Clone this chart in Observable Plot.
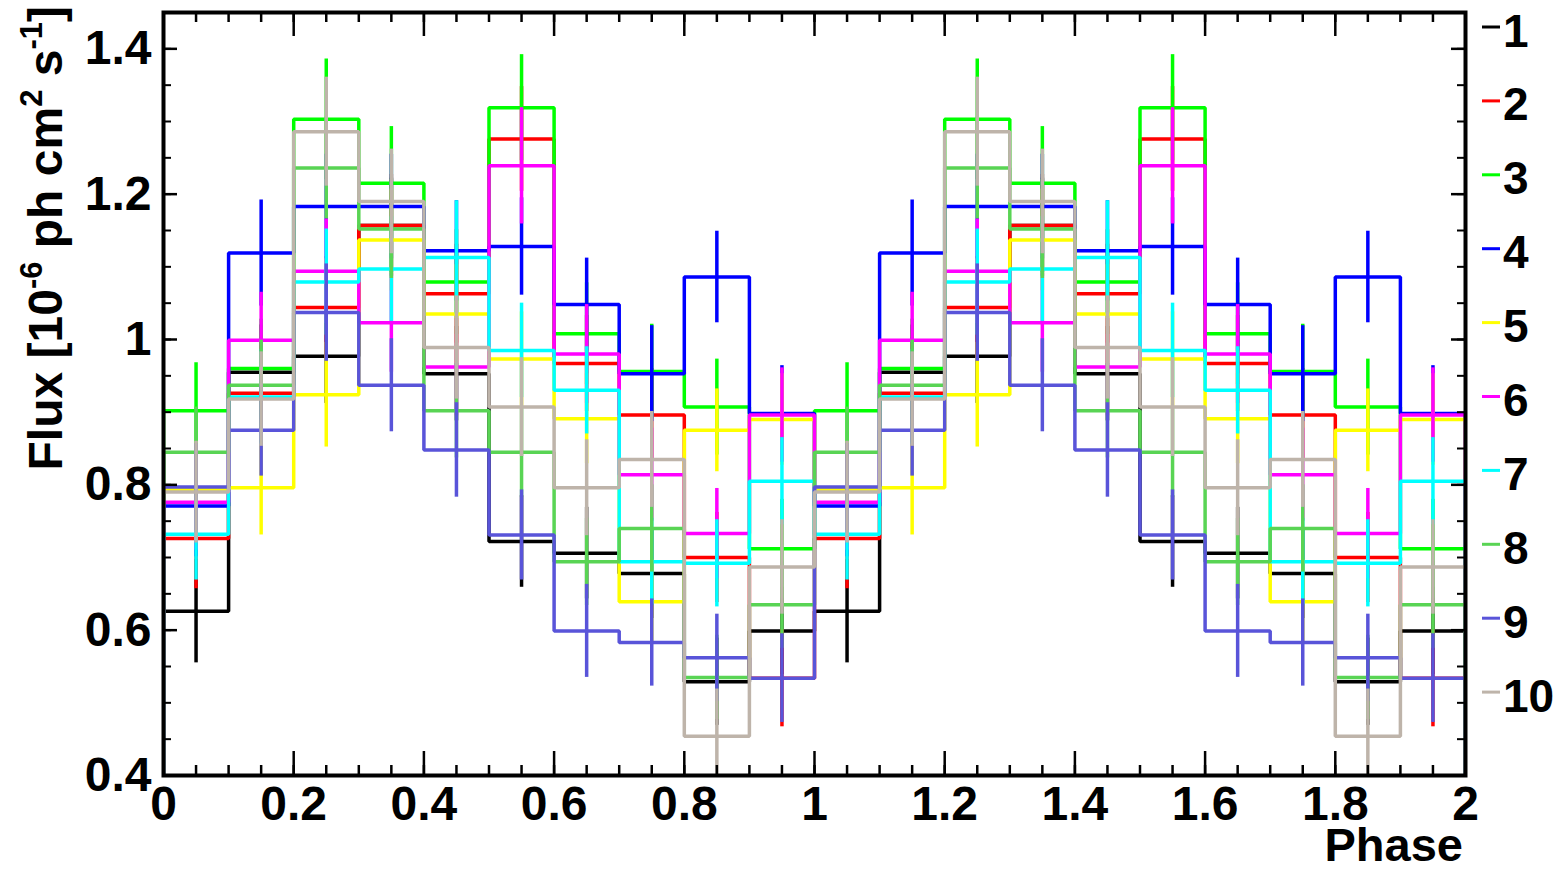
<!DOCTYPE html>
<html>
<head>
<meta charset="utf-8">
<script src="https://cdn.jsdelivr.net/npm/d3@7"></script>
<script src="https://cdn.jsdelivr.net/npm/@observablehq/plot@0.6"></script>
<style>
  html, body { margin: 0; padding: 0; background: #fff; }
  #chart { position: relative; width: 1565px; height: 872px; }
</style>
</head>
<body>
<div id="chart"></div>
<script>
// Phase-folded light curves: 10 bins per cycle, shown over two cycles.
const binStarts = [0, 0.1, 0.2, 0.3, 0.4, 0.5, 0.6, 0.7, 0.8, 0.9];
const binWidth = 0.1;
const cycles = [0, 1];

const seriesLabels = ["1", "2", "3", "4", "5", "6", "7", "8", "9", "10"];
const seriesColors = ["#000000", "#ff0000", "#00ff00", "#0000ff", "#ffff00",
                      "#ff00ff", "#00ffff", "#59d454", "#5954d9", "#beb4aa"];

// Flux per phase bin (10^-6 ph cm^-2 s^-1)
const flux1  = [0.626, 0.955, 0.977, 1.157, 0.953, 0.722, 0.706, 0.678, 0.529, 0.599];
const flux2  = [0.726, 0.926, 1.044, 1.157, 1.063, 1.276, 0.967, 0.896, 0.700, 0.534];
const flux3  = [0.902, 0.960, 1.303, 1.215, 1.079, 1.319, 1.008, 0.956, 0.907, 0.712];
const flux4  = [0.771, 1.119, 1.183, 1.183, 1.122, 1.128, 1.048, 0.953, 1.086, 0.898];
const flux5  = [0.794, 0.796, 0.924, 1.137, 1.035, 0.973, 0.891, 0.639, 0.875, 0.890];
const flux6  = [0.776, 0.999, 1.094, 1.023, 0.962, 1.239, 0.980, 0.814, 0.733, 0.896];
const flux7  = [0.732, 0.921, 1.079, 1.097, 1.113, 0.985, 0.930, 0.694, 0.692, 0.805];
const flux8  = [0.845, 0.937, 1.236, 1.152, 0.902, 0.845, 0.694, 0.740, 0.535, 0.635];
const flux9  = [0.797, 0.875, 1.037, 0.937, 0.848, 0.731, 0.599, 0.583, 0.562, 0.534];
const flux10 = [0.790, 0.918, 1.286, 1.190, 0.989, 0.907, 0.796, 0.835, 0.454, 0.687];

// Statistical errors per phase bin
const err1  = [0.071, 0.065, 0.065, 0.065, 0.065, 0.063, 0.063, 0.062, 0.060, 0.060];
const err2  = [0.069, 0.068, 0.070, 0.070, 0.068, 0.072, 0.066, 0.064, 0.062, 0.067];
const err3  = [0.066, 0.068, 0.083, 0.078, 0.072, 0.073, 0.070, 0.065, 0.066, 0.068];
const err4  = [0.070, 0.073, 0.072, 0.072, 0.069, 0.067, 0.064, 0.066, 0.063, 0.066];
const err5  = [0.065, 0.065, 0.072, 0.070, 0.068, 0.065, 0.062, 0.058, 0.057, 0.063];
const err6  = [0.066, 0.066, 0.072, 0.068, 0.067, 0.080, 0.068, 0.064, 0.062, 0.065];
const err7  = [0.063, 0.065, 0.073, 0.072, 0.078, 0.065, 0.060, 0.060, 0.060, 0.060];
const err8  = [0.062, 0.062, 0.070, 0.068, 0.065, 0.062, 0.060, 0.060, 0.058, 0.060];
const err9  = [0.060, 0.063, 0.067, 0.064, 0.065, 0.062, 0.064, 0.060, 0.060, 0.061];
const err10 = [0.070, 0.065, 0.075, 0.072, 0.071, 0.068, 0.066, 0.066, 0.065, 0.065];

const fluxes = [flux1, flux2, flux3, flux4, flux5, flux6, flux7, flux8, flux9, flux10];
const errors = [err1, err2, err3, err4, err5, err6, err7, err8, err9, err10];

// Axis settings
const xDomain = [0, 2];
const yDomain = [0.4, 1.45];
const xMajorTicks = [0, 0.2, 0.4, 0.6, 0.8, 1, 1.2, 1.4, 1.6, 1.8, 2];
const yMajorTicks = [0.4, 0.6, 0.8, 1, 1.2, 1.4];
const xMinorTicks = d3.range(0, 40.5).map(i => i * 0.05);
const yMinorTicks = d3.range(0, 21).map(i => 0.4 + i * 0.05);
const tickText = d => d3.format("~g")(+d.toFixed(2));

const width = 1565, height = 872;
const margin = {top: 12, right: 100, bottom: 97, left: 163};
const frameW = width - margin.left - margin.right;
const frameH = height - margin.top - margin.bottom;
const font = "'Liberation Sans', Arial, Helvetica, sans-serif";

// One row per (series, cycle, bin)
const seriesRows = fluxes.map((flux, s) =>
  cycles.flatMap(c => binStarts.map((b, i) => ({
    series: seriesLabels[s],
    x1: c + b,
    x2: c + b + binWidth,
    xc: c + b + binWidth / 2,
    v: flux[i],
    e: errors[s][i]
  })))
);

// Histogram outline: rises from the axis floor, steps across each bin, drops back
const outline = rows => [
  {x: xDomain[0], y: yDomain[0]},
  ...rows.flatMap(r => [{x: r.x1, y: r.v}, {x: r.x2, y: r.v}]),
  {x: xDomain[1], y: yDomain[0]}
];

const lw = 3.5;
const histMarks = seriesRows.flatMap((rows, s) => [
  Plot.line(outline(rows), {x: "x", y: "y", stroke: seriesColors[s], strokeWidth: lw,
    strokeLinejoin: "miter", strokeLinecap: "butt", clip: true}),
  Plot.ruleX(rows, {x: "xc", y1: d => d.v - d.e, y2: d => d.v + d.e,
    stroke: seriesColors[s], strokeWidth: lw, clip: true})
]);

// Inward-pointing ticks on all four sides of the frame
const tickMarks = [
  Plot.tickY(yMinorTicks, {y: d => d, stroke: "black", strokeWidth: 2, insetRight: frameW - 8}),
  Plot.tickY(yMajorTicks, {y: d => d, stroke: "black", strokeWidth: 2.5, insetRight: frameW - 14}),
  Plot.tickY(yMinorTicks, {y: d => d, stroke: "black", strokeWidth: 2, insetLeft: frameW - 8}),
  Plot.tickY(yMajorTicks, {y: d => d, stroke: "black", strokeWidth: 2.5, insetLeft: frameW - 14}),
  Plot.tickX(xMinorTicks, {x: d => d, stroke: "black", strokeWidth: 2.5, insetTop: frameH - 10}),
  Plot.tickX(xMajorTicks, {x: d => d, stroke: "black", strokeWidth: 2.5, insetTop: frameH - 24}),
  Plot.tickX(xMinorTicks, {x: d => d, stroke: "black", strokeWidth: 2.5, insetBottom: frameH - 10}),
  Plot.tickX(xMajorTicks, {x: d => d, stroke: "black", strokeWidth: 2.5, insetBottom: frameH - 24})
];

const chart = Plot.plot({
  width, height,
  marginTop: margin.top, marginRight: margin.right,
  marginBottom: margin.bottom, marginLeft: margin.left,
  style: {fontFamily: font, fontWeight: "bold", fontSize: "48px", background: "white", overflow: "visible"},
  x: {domain: xDomain},
  y: {domain: yDomain},
  marks: [
    ...histMarks,
    ...tickMarks,
    Plot.frame({stroke: "black", strokeWidth: 4}),
    Plot.axisX(xMajorTicks, {tickSize: 0, tickPadding: 10, tickFormat: tickText,
      fontSize: 48, fontWeight: "bold", fontFamily: font, label: null}),
    Plot.axisY(yMajorTicks, {tickSize: 0, tickPadding: 12, tickFormat: tickText,
      fontSize: 48, fontWeight: "bold", fontFamily: font, label: null})
  ]
});

document.getElementById("chart").appendChild(chart);

// Axis titles and legend
const svg = d3.select(chart);
const txt = svg.append("g")
  .attr("font-family", font).attr("font-weight", "bold").attr("fill", "black");

const yTitle = txt.append("text")
  .attr("transform", "translate(62,6) rotate(-90)")
  .attr("text-anchor", "end")
  .attr("font-size", 48);
const supSize = 31, supShift = 20;
yTitle.append("tspan").text("Flux [10");
yTitle.append("tspan").attr("font-size", supSize).attr("dy", -supShift).text("-6");
yTitle.append("tspan").attr("dy", supShift).text(" ph cm");
yTitle.append("tspan").attr("font-size", supSize).attr("dy", -supShift).text("2");
yTitle.append("tspan").attr("dy", supShift).text(" s");
yTitle.append("tspan").attr("font-size", supSize).attr("dy", -supShift).text("-1");
yTitle.append("tspan").attr("dy", supShift).text("]");

txt.append("text")
  .attr("x", margin.left + frameW - 2).attr("y", 861)
  .attr("text-anchor", "end").attr("font-size", 47)
  .text("Phase");

const legendTop = 30, legendStep = 73.9;
const legend = svg.append("g")
  .attr("font-family", font).attr("font-weight", "bold").attr("font-size", 46)
  .attr("text-anchor", "start").attr("fill", "black");
seriesLabels.forEach((label, i) => {
  const cy = legendTop + i * legendStep;
  legend.append("line")
    .attr("x1", 1482).attr("x2", 1500).attr("y1", cy - 3).attr("y2", cy - 3)
    .attr("stroke", seriesColors[i]).attr("stroke-width", 3);
  legend.append("text")
    .attr("x", 1503).attr("y", cy + 16.5)
    .text(label);
});
</script>
</body>
</html>
